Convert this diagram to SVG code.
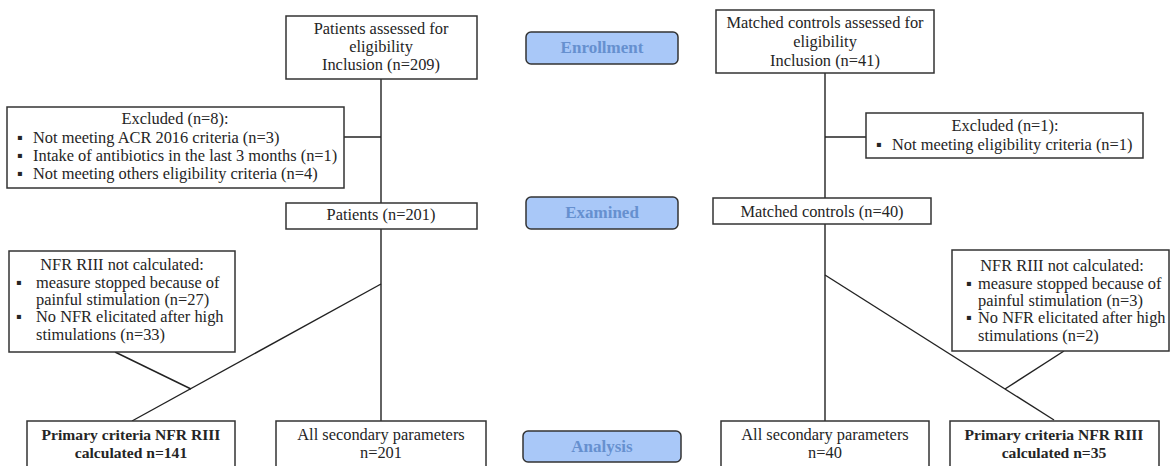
<svg xmlns="http://www.w3.org/2000/svg" width="1172" height="466" viewBox="0 0 1172 466" font-family="'Liberation Serif', 'DejaVu Serif', serif">
<style>
.box{fill:#fff;stroke:#333;stroke-width:1.5}
.stage{fill:#a9c8f8;stroke:#333;stroke-width:1.5}
.ln{stroke:#222;stroke-width:1.4;fill:none}
text{font-size:16.4px;fill:#252525}
.c{text-anchor:middle}
.b{font-weight:bold;font-size:15.6px}
.st{font-weight:bold;fill:#6690cf;font-size:17px;text-anchor:middle}
</style>
<rect width="1172" height="466" fill="#fff"/>
<g id="connectors">
<line class="ln" x1="381" y1="79" x2="381" y2="203"/>
<line class="ln" x1="344" y1="137" x2="381" y2="137"/>
<line class="ln" x1="381" y1="229" x2="381" y2="421"/>
<line class="ln" x1="381" y1="284" x2="132" y2="421"/>
<line class="ln" x1="115" y1="352" x2="191" y2="389"/>
<line class="ln" x1="825" y1="73" x2="825" y2="198"/>
<line class="ln" x1="825" y1="137" x2="866" y2="137"/>
<line class="ln" x1="825" y1="224" x2="825" y2="421"/>
<line class="ln" x1="825" y1="275" x2="1054" y2="420"/>
<line class="ln" x1="1064" y1="351" x2="1005" y2="389"/>
</g>
<g id="patients-assessed">
<rect class="box" x="286" y="16" width="191" height="63"/>
<text class="c" x="381" y="34">Patients assessed for</text>
<text class="c" x="381" y="52">eligibility</text>
<text class="c" x="381" y="70">Inclusion (n=209)</text>
</g>
<g id="enrollment">
<rect class="stage" x="526" y="32" width="152" height="32" rx="5"/>
<text class="st" x="602" y="53">Enrollment</text>
</g>
<g id="controls-assessed">
<rect class="box" x="716" y="10" width="218" height="63"/>
<text class="c" x="825" y="28">Matched controls assessed for</text>
<text class="c" x="825" y="47">eligibility</text>
<text class="c" x="825" y="66">Inclusion (n=41)</text>
</g>
<g id="excluded-patients">
<rect class="box" x="7" y="107" width="337" height="81"/>
<text class="c" x="175" y="124">Excluded  (n=8):</text>
<text y="143"><tspan x="17">▪</tspan><tspan x="33">Not meeting ACR 2016 criteria (n=3)</tspan></text>
<text y="161"><tspan x="17">▪</tspan><tspan x="33">Intake of antibiotics in the last 3 months (n=1)</tspan></text>
<text y="179"><tspan x="17">▪</tspan><tspan x="33">Not meeting others eligibility criteria (n=4)</tspan></text>
</g>
<g id="excluded-controls">
<rect class="box" x="866" y="113" width="277" height="45"/>
<text class="c" x="1005" y="131">Excluded  (n=1):</text>
<text y="150"><tspan x="876">▪</tspan><tspan x="892">Not meeting eligibility criteria (n=1)</tspan></text>
</g>
<g id="patients">
<rect class="box" x="286" y="203" width="191" height="26"/>
<text class="c" x="381" y="220">Patients (n=201)</text>
</g>
<g id="examined">
<rect class="stage" x="526" y="197" width="152" height="32" rx="5"/>
<text class="st" x="602" y="218">Examined</text>
</g>
<g id="controls">
<rect class="box" x="713" y="198" width="218" height="26"/>
<text class="c" x="822" y="217">Matched controls (n=40)</text>
</g>
<g id="nfr-patients">
<rect class="box" x="9" y="251" width="226" height="101"/>
<text class="c" x="122" y="270">NFR RIII not calculated:</text>
<text y="288"><tspan x="16">▪</tspan><tspan x="36">measure stopped because of</tspan></text>
<text x="36" y="305">painful stimulation (n=27)</text>
<text y="322"><tspan x="16">▪</tspan><tspan x="36">No NFR elicitated after high</tspan></text>
<text x="36" y="340">stimulations (n=33)</text>
</g>
<g id="nfr-controls">
<rect class="box" x="952" y="250" width="217" height="101"/>
<text class="c" x="1062" y="271">NFR RIII not calculated:</text>
<text y="289"><tspan x="966">▪</tspan><tspan x="978">measure stopped because of</tspan></text>
<text x="978" y="306">painful stimulation (n=3)</text>
<text y="323"><tspan x="966">▪</tspan><tspan x="978">No NFR elicitated after high</tspan></text>
<text x="978" y="341">stimulations (n=2)</text>
</g>
<g id="primary-patients">
<rect class="box" x="27" y="421" width="208" height="60"/>
<text class="c b" x="131" y="440">Primary criteria NFR RIII</text>
<text class="c b" x="131" y="458">calculated  n=141</text>
</g>
<g id="secondary-patients">
<rect class="box" x="276" y="421" width="210" height="60"/>
<text class="c" x="381" y="440">All secondary parameters</text>
<text class="c" x="381" y="458">n=201</text>
</g>
<g id="analysis">
<rect class="stage" x="523" y="431" width="158" height="31" rx="5"/>
<text class="st" x="602" y="452">Analysis</text>
</g>
<g id="secondary-controls">
<rect class="box" x="721" y="421" width="208" height="60"/>
<text class="c" x="825" y="440">All secondary parameters</text>
<text class="c" x="825" y="458">n=40</text>
</g>
<g id="primary-controls">
<rect class="box" x="950" y="421" width="209" height="60"/>
<text class="c b" x="1054" y="440">Primary criteria NFR RIII</text>
<text class="c b" x="1054" y="458">calculated  n=35</text>
</g>
</svg>
